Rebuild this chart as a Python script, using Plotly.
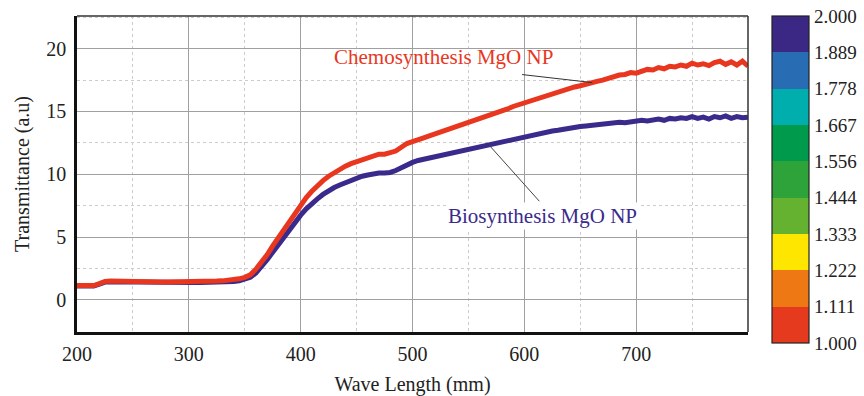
import plotly.graph_objects as go

wavelength = list(range(200, 805, 5))

chemo = [
    1.15, 1.15, 1.15, 1.15, 1.30, 1.48, 1.50, 1.48, 1.46, 1.45,   # 200-245
    1.44, 1.43, 1.43, 1.42, 1.42, 1.42, 1.42, 1.42, 1.42, 1.43,   # 250-295
    1.43, 1.44, 1.45, 1.46, 1.48, 1.50, 1.52, 1.55, 1.60, 1.68,   # 300-345
    1.80, 2.00, 2.45, 3.00, 3.60, 4.30, 4.95, 5.65, 6.35, 7.00,   # 350-395
    7.60, 8.15, 8.65, 9.10, 9.50, 9.85, 10.15, 10.45, 10.65, 10.85,  # 400-445
    11.00, 11.15, 11.35, 11.50, 11.60, 11.60, 11.70, 11.85, 12.15, 12.45,  # 450-495
    12.60, 12.80, 12.90, 13.05, 13.20, 13.35, 13.50, 13.60, 13.80, 13.95,  # 500-545
    14.10, 14.25, 14.40, 14.55, 14.70, 14.85, 15.05, 15.20, 15.40, 15.55,  # 550-595
    15.70, 15.85, 16.00, 16.15, 16.30, 16.40, 16.55, 16.70, 16.80, 16.95,  # 600-645
    17.05, 17.20, 17.30, 17.40, 17.50, 17.65, 17.75, 17.90, 17.95, 18.10,  # 650-695
    18.05, 18.20, 18.35, 18.30, 18.50, 18.40, 18.60, 18.55, 18.70, 18.60,  # 700-745
    18.85, 18.70, 18.80, 18.65, 18.90, 19.00, 18.75, 18.95, 18.70, 19.00,  # 750-795
    18.60,                                                                  # 800
]

bio = [
    1.12, 1.12, 1.12, 1.12, 1.25, 1.42, 1.45, 1.44, 1.42, 1.41,   # 200-245
    1.40, 1.39, 1.39, 1.38, 1.38, 1.38, 1.38, 1.38, 1.38, 1.38,   # 250-295
    1.38, 1.38, 1.39, 1.39, 1.40, 1.41, 1.42, 1.44, 1.47, 1.52,   # 300-345
    1.62, 1.80, 2.15, 2.65, 3.20, 3.80, 4.40, 5.05, 5.70, 6.25,   # 350-395
    6.75, 7.25, 7.70, 8.05, 8.40, 8.70, 8.95, 9.15, 9.35, 9.55,   # 400-445
    9.70, 9.85, 9.95, 10.05, 10.10, 10.10, 10.15, 10.30, 10.55, 10.80,  # 450-495
    10.95, 11.10, 11.20, 11.30, 11.40, 11.50, 11.60, 11.70, 11.80, 11.95,  # 500-545
    12.05, 12.15, 12.25, 12.35, 12.45, 12.55, 12.65, 12.75, 12.85, 12.90,  # 550-595
    13.00, 13.10, 13.20, 13.30, 13.35, 13.45, 13.50, 13.60, 13.65, 13.70,  # 600-645
    13.80, 13.85, 13.90, 13.95, 14.00, 14.05, 14.10, 14.15, 14.10, 14.20,  # 650-695
    14.25, 14.30, 14.25, 14.35, 14.40, 14.30, 14.45, 14.40, 14.50, 14.45,  # 700-745
    14.60, 14.45, 14.55, 14.40, 14.60, 14.50, 14.65, 14.45, 14.60, 14.50,  # 750-795
    14.55,                                                                  # 800
]

x_ticks = [200, 300, 400, 500, 600, 700]
y_ticks = [0, 5, 10, 15, 20]
cbar_vals = [1.000, 1.111, 1.222, 1.333, 1.444, 1.556, 1.667, 1.778, 1.889, 2.000]
cbar_text = ["1.000", "1.111", "1.222", "1.333", "1.444", "1.556", "1.667", "1.778", "1.889", "2.000"]
band_colors = ["#e63a1f", "#ee7914", "#ffe600", "#64b22f", "#2da33a",
               "#009a4c", "#00aeae", "#286db4", "#3b2884"]

RED = "#e8371e"
BLUE = "#3a2a8c"
FONT = "Liberation Serif"
TXT = "#222"

# discrete colorscale
cs = []
n = len(band_colors)
for i, c in enumerate(band_colors):
    cs.append([i / n, c])
    cs.append([(i + 1) / n, c])

fig = go.Figure()
fig.add_trace(go.Scatter(x=wavelength, y=bio, mode="lines",
                         line=dict(color=BLUE, width=5), showlegend=False,
                         name="Biosynthesis MgO NP"))
fig.add_trace(go.Scatter(x=wavelength, y=chemo, mode="lines",
                         line=dict(color=RED, width=5), showlegend=False,
                         name="Chemosynthesis MgO NP"))
fig.add_trace(go.Scatter(
    x=[None, None], y=[None, None], mode="markers", showlegend=False,
    hoverinfo="skip",
    marker=dict(color=[1, 2], cmin=1, cmax=2, colorscale=cs, showscale=True,
                colorbar=dict(
                    x=1.0358, xanchor="left", xpad=0,
                    y=1, yanchor="top", ypad=0,
                    len=1.035, lenmode="fraction",
                    thickness=37, outlinewidth=1.2, outlinecolor="#222",
                    tickvals=cbar_vals, ticktext=cbar_text, ticks="",
                    tickfont=dict(family=FONT, size=19, color=TXT),
                ))))

# leader lines
fig.add_shape(type="line", x0=598, y0=17.94, x1=660.7, y1=17.3,
              line=dict(color="#333", width=1), xref="x", yref="y")
fig.add_shape(type="line", x0=568.75, y0=12.3, x1=613.4, y1=7.86,
              line=dict(color="#444", width=1), xref="x", yref="y")

fig.add_annotation(x=527.7, y=19.3, text="Chemosynthesis MgO NP", showarrow=False,
                   font=dict(family=FONT, size=21, color=RED))
fig.add_annotation(x=616, y=6.67, text="Biosynthesis MgO NP", showarrow=False,
                   bgcolor="white",
                   font=dict(family=FONT, size=21, color=BLUE))

# top and right frame (thinner)
fig.add_shape(type="line", xref="paper", yref="paper", x0=0, y0=1, x1=1, y1=1,
              line=dict(color="#333", width=1.5))
fig.add_shape(type="line", xref="paper", yref="paper", x0=1, y0=0, x1=1, y1=1,
              line=dict(color="#333", width=1.5))

fig.update_xaxes(
    range=[200, 800], tickvals=x_ticks, showgrid=True, gridcolor="#a0a0a0",
    gridwidth=1, zeroline=False, showline=True, linecolor="#111", linewidth=2.5,
    ticks="", ticklabelstandoff=2, automargin=False,
    tickfont=dict(family=FONT, size=20, color=TXT),
    title=dict(text="Wave Length (mm)", font=dict(family=FONT, size=20, color=TXT),
               standoff=14),
    minor=dict(dtick=50, tick0=250, showgrid=True, gridcolor="#cccccc",
               griddash="dot", gridwidth=1, ticks=""),
)
fig.update_yaxes(
    range=[-2.55, 22.6], tickvals=y_ticks, showgrid=True, gridcolor="#a0a0a0",
    gridwidth=1, zeroline=False, showline=True, linecolor="#111", linewidth=2.5,
    ticks="", ticklabelstandoff=4, automargin=False,
    tickfont=dict(family=FONT, size=20, color=TXT),
    title=dict(text="Transmittance (a.u)", font=dict(family=FONT, size=20, color=TXT),
               standoff=12),
    minor=dict(dtick=2.5, tick0=-2.5, showgrid=True, gridcolor="#cccccc",
               griddash="dot", gridwidth=1, ticks=""),
)

fig.update_layout(
    width=864, height=396,
    margin=dict(l=77, r=116, t=16, b=64, autoexpand=False),
    paper_bgcolor="white", plot_bgcolor="white",
    font=dict(family=FONT),
)

fig.write_html("out.html", config={"displayModeBar": False},
               post_script="document.body.style.margin='0';")
